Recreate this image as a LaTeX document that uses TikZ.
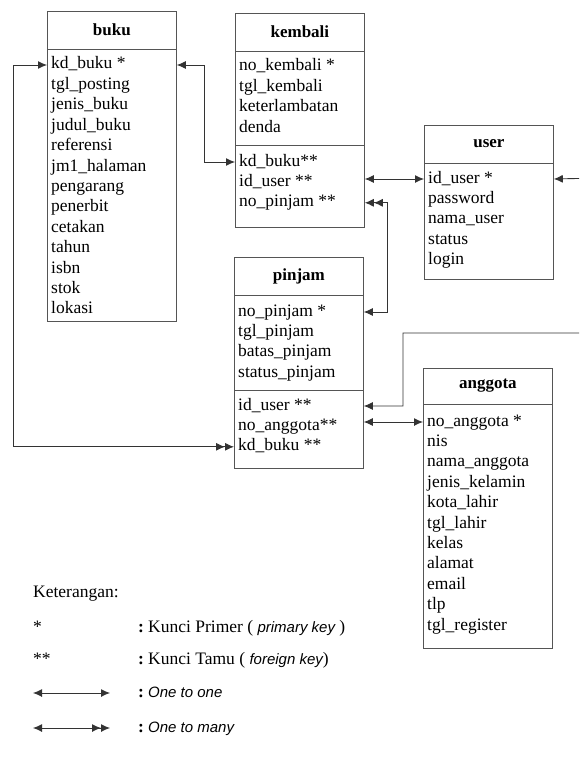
\documentclass[tikz,border=0pt]{standalone}
\usepackage{fontspec}
\setmainfont{Liberation Serif}
\newfontfamily\legendsans{Liberation Sans}
\usetikzlibrary{arrows.meta,positioning,calc}
\definecolor{linegray}{RGB}{85,85,85}

\begin{document}
\begin{tikzpicture}[x=1pt, y=-1pt,
    font=\fontsize{17.5}{20}\selectfont,
    entity/.style={rectangle, draw=linegray, line width=0.8pt, minimum width=129pt, anchor=north west, inner sep=0pt},
    entitytitle/.style={inner sep=0pt, font=\fontsize{17}{20}\selectfont\bfseries},
    field/.style={anchor=west, inner sep=0pt, text height=12pt, text depth=4pt},
    rule/.style={draw=linegray, line width=0.8pt},
    one2one/.style={draw=black!80, line width=0.9pt, {Latex[length=9pt,width=8pt]}-{Latex[length=9pt,width=8pt]}},
    one2many/.style={draw=black!80, line width=0.9pt, {Latex[length=9pt,width=8pt]}-{Latex[length=9pt,width=8pt]Latex[length=9pt,width=8pt]}},
    many2one/.style={draw=black!80, line width=0.9pt, {Latex[length=9pt,width=8pt]Latex[length=9pt,width=8pt]}-{Latex[length=9pt,width=8pt]}}]

    \clip (0,0) rectangle (579,765);

    % tabel buku
    \node[entity, minimum height=310pt] (buku) at (47,11) {};
    \draw[rule] ($(buku.north west)+(0,38)$) -- ($(buku.north east)+(0,38)$);
    \node[entitytitle] (buku-title) at ($(buku.north)+(0,19)$) {buku};
    \foreach \f [count=\i] in {kd\_buku *, tgl\_posting, jenis\_buku, judul\_buku, referensi, jm1\_halaman, pengarang, penerbit, cetakan, tahun, isbn, stok, lokasi}
        \node[field] (buku-\i) at ($(buku.north west)+(4,{54+20.4*(\i-1)})$) {\f};

    % tabel kembali
    \node[entity, minimum height=214pt] (kembali) at (235,13) {};
    \draw[rule] ($(kembali.north west)+(0,38)$) -- ($(kembali.north east)+(0,38)$);
    \draw[rule] ($(kembali.north west)+(0,132)$) -- ($(kembali.north east)+(0,132)$);
    \node[entitytitle] (kembali-title) at ($(kembali.north)+(0,19)$) {kembali};
    \foreach \f [count=\i] in {no\_kembali *, tgl\_kembali, keterlambatan, denda}
        \node[field] (kembali-\i) at ($(kembali.north west)+(4,{54+20.4*(\i-1)})$) {\f};
    \foreach \f [count=\i from 5] in {kd\_buku**, id\_user **, no\_pinjam **}
        \node[field] (kembali-\i) at ($(kembali.north west)+(4,{149+20.4*(\i-5)})$) {\f};

    % tabel user
    \node[entity, minimum height=154pt] (user) at (424,125) {};
    \draw[rule] ($(user.north west)+(0,38)$) -- ($(user.north east)+(0,38)$);
    \node[entitytitle] (user-title) at ($(user.north)+(0,19)$) {user};
    \foreach \f [count=\i] in {id\_user *, password, nama\_user, status, login}
        \node[field] (user-\i) at ($(user.north west)+(4,{54+20.4*(\i-1)})$) {\f};

    % tabel pinjam
    \node[entity, minimum height=211pt] (pinjam) at (234,257) {};
    \draw[rule] ($(pinjam.north west)+(0,38)$) -- ($(pinjam.north east)+(0,38)$);
    \draw[rule] ($(pinjam.north west)+(0,133)$) -- ($(pinjam.north east)+(0,133)$);
    \node[entitytitle] (pinjam-title) at ($(pinjam.north)+(0,19)$) {pinjam};
    \foreach \f [count=\i] in {no\_pinjam *, tgl\_pinjam, batas\_pinjam, status\_pinjam}
        \node[field] (pinjam-\i) at ($(pinjam.north west)+(4,{55+20.4*(\i-1)})$) {\f};
    \foreach \f [count=\i from 5] in {id\_user **, no\_anggota**, kd\_buku **}
        \node[field] (pinjam-\i) at ($(pinjam.north west)+(4,{149+20.4*(\i-5)})$) {\f};

    % tabel anggota
    \node[entity, minimum height=280pt] (anggota) at (423,368) {};
    \draw[rule] ($(anggota.north west)+(0,36)$) -- ($(anggota.north east)+(0,36)$);
    \node[entitytitle] (anggota-title) at ($(anggota.north)+(0,18)$) {anggota};
    \foreach \f [count=\i] in {no\_anggota *, nis, nama\_anggota, jenis\_kelamin, kota\_lahir, tgl\_lahir, kelas, alamat, email, tlp, tgl\_register}
        \node[field] (anggota-\i) at ($(anggota.north west)+(4,{54+20.4*(\i-1)})$) {\f};

    % relasi
    \coordinate (bendA) at (403,333);
    \coordinate (outA) at (600,333);
    \coordinate (outB) at (600,178);
    \draw[one2one] (buku.east |- buku-1) -- ++(28,0) |- (kembali.west |- kembali-5);
    \draw[one2one] (kembali.east |- user-1) -- (user.west |- user-1);
    \draw[many2one] (kembali.east |- kembali-7) -- ++(23,0) |- (pinjam.east |- pinjam-1);
    \draw[one2one] (pinjam.east |- pinjam-5) -| (bendA) -- (outA) -- (outB) -- (user.east |- user-1);
    \draw[one2one] (pinjam.east |- anggota-1) -- (anggota.west |- anggota-1);
    \draw[one2many] (buku.west |- buku-1) -- ++(-34,0) |- (pinjam.west |- pinjam-7);

    % keterangan
    \node[field] (ket) at (33,593) {Keterangan:};
    \node[field] (pk) at (33,628) {*};
    \node[field] (pk-colon) at (138,628) {\textbf{:}};
    \node[field] (pk-text) at (148,628) {Kunci Primer ( {\legendsans\itshape\fontsize{15}{18}\selectfont primary key} )};
    \node[field] (fk) at (33,660) {**};
    \node[field] (fk-colon) at (138,660) {\textbf{:}};
    \node[field] (fk-text) at (148,660) {Kunci Tamu ( {\legendsans\itshape\fontsize{15}{18}\selectfont foreign key})};
    \coordinate (o2o-a) at (33,693);
    \coordinate (o2o-b) at (110,693);
    \draw[one2one] (o2o-a) -- (o2o-b);
    \node[field] (o2o-colon) at (138,693) {\textbf{:}};
    \node[field] (o2o-text) at (148,693) {\legendsans\itshape\fontsize{15}{18}\selectfont One to one};
    \coordinate (o2m-a) at (33,728);
    \coordinate (o2m-b) at (110,728);
    \draw[one2many] (o2m-a) -- (o2m-b);
    \node[field] (o2m-colon) at (138,728) {\textbf{:}};
    \node[field] (o2m-text) at (148,728) {\legendsans\itshape\fontsize{15}{18}\selectfont One to many};
\end{tikzpicture}
\end{document}
